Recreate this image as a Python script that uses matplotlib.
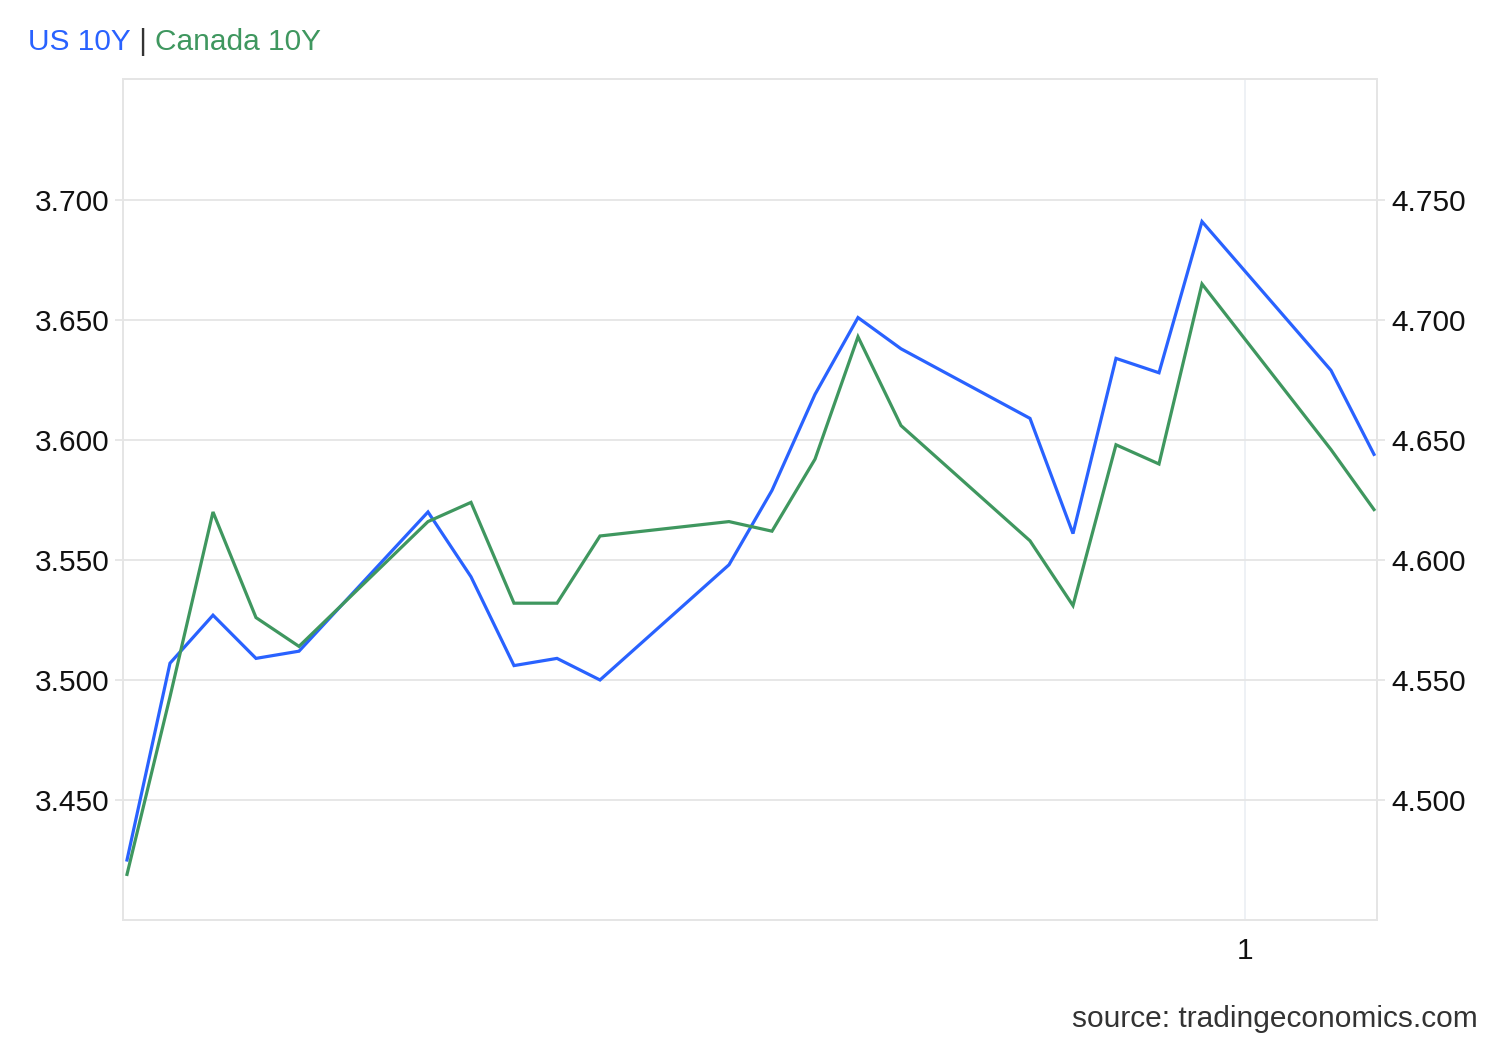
import matplotlib
matplotlib.use("Agg")
import matplotlib.pyplot as plt
import matplotlib.dates as mdates
import pandas as pd
from matplotlib.ticker import FixedLocator, FormatStrFormatter

plt.rcParams['font.family'] = ['Liberation Sans', 'DejaVu Sans']

dates = pd.to_datetime([
    "2023-03-06", "2023-03-07", "2023-03-08", "2023-03-09", "2023-03-10",
    "2023-03-13", "2023-03-14", "2023-03-15", "2023-03-16", "2023-03-17",
    "2023-03-20", "2023-03-21", "2023-03-22", "2023-03-23", "2023-03-24",
    "2023-03-27", "2023-03-28", "2023-03-29", "2023-03-30", "2023-03-31",
    "2023-04-03", "2023-04-04",
])
us_10y = [3.425, 3.507, 3.527, 3.509, 3.512, 3.570, 3.543, 3.506, 3.509, 3.500,
          3.548, 3.579, 3.619, 3.651, 3.638, 3.609, 3.561, 3.634, 3.628, 3.691,
          3.629, 3.594]
canada_10y = [4.469, 4.543, 4.620, 4.576, 4.564, 4.616, 4.624, 4.582, 4.582, 4.610,
              4.616, 4.612, 4.642, 4.693, 4.656, 4.608, 4.581, 4.648, 4.640, 4.715,
              4.646, 4.621]
left_ticks = [3.45, 3.50, 3.55, 3.60, 3.65, 3.70]
right_ticks = [4.50, 4.55, 4.60, 4.65, 4.70, 4.75]

BLUE = "#2962ff"
GREEN = "#3f975f"
GRID = "#e5e5e5"
FS = 21.5

W, H = 1500, 1040
fig = plt.figure(figsize=(W / 100, H / 100), dpi=100)
L, R, T, B = 123, 1377, 79, 920
ax = fig.add_axes([L / W, 1 - B / H, (R - L) / W, (B - T) / H])
ax2 = ax.twinx()

ax.plot(dates, us_10y, color=BLUE, lw=2.3, solid_joinstyle="miter", zorder=3)
ax2.plot(dates, canada_10y, color=GREEN, lw=2.3, solid_joinstyle="miter", zorder=3)

day = pd.Timedelta(days=1)
ax.set_xlim(dates[0] - 0.093 * day, dates[0] + 29.07 * day)
ax.set_ylim(3.40, 3.7504)
ax2.set_ylim(4.45, 4.8004)

ax.yaxis.set_major_locator(FixedLocator(left_ticks))
ax.yaxis.set_major_formatter(FormatStrFormatter("%.3f"))
ax2.yaxis.set_major_locator(FixedLocator(right_ticks))
ax2.yaxis.set_major_formatter(FormatStrFormatter("%.3f"))

ax.xaxis.set_major_locator(mdates.DayLocator(bymonthday=1))
ax.xaxis.set_major_formatter(mdates.DateFormatter("%-d"))

ax.grid(axis="y", color=GRID, lw=1.3, zorder=0)
ax.grid(axis="x", color="#edf0f4", lw=1.3, zorder=0)
ax.set_axisbelow(True)

for a in (ax, ax2):
    for s in a.spines.values():
        s.set_color(GRID)
        s.set_linewidth(1.3)
ax.tick_params(axis="y", length=6, width=1.3, color=GRID, pad=4, labelsize=FS, labelcolor="#111111")
ax2.tick_params(axis="y", length=6, width=1.3, color=GRID, pad=4, labelsize=FS, labelcolor="#111111")
ax.tick_params(axis="x", length=0, pad=12, labelsize=FS, labelcolor="#111111")

# title made of coloured pieces
fig.canvas.draw()
renderer = fig.canvas.get_renderer()
x = 28 / W
ty = 1 - 50 / H
for txt, col in [("US 10Y", BLUE), (" | ", "#333333"), ("Canada 10Y", GREEN)]:
    t = fig.text(x, ty, txt, color=col, fontsize=FS, va="baseline", ha="left")
    bb = t.get_window_extent(renderer)
    x = bb.x1 / W

fig.text(1478 / W, 1 - 1027 / H, "source: tradingeconomics.com", color="#333333",
         fontsize=FS, ha="right", va="baseline")

fig.savefig("out.png", dpi=100, facecolor="white")
